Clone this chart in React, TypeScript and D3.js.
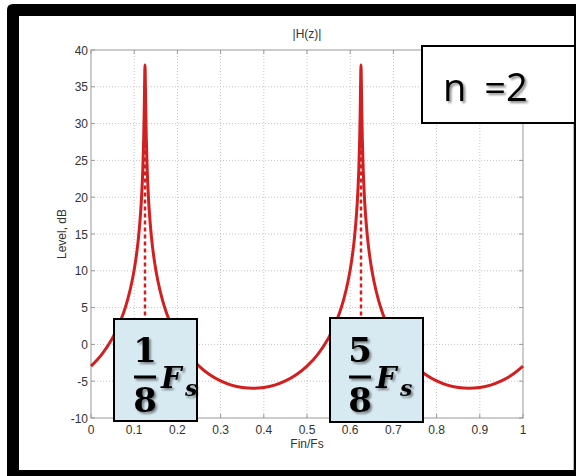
import React from "react";
import * as d3 from "d3";

// Normalised input frequency (Fin/Fs) and the filter magnitude in dB
const freq = [
  0, 0.025, 0.05, 0.0625, 0.075, 0.085, 0.095, 0.1, 0.105, 0.11, 0.115, 0.1175, 0.12, 0.122, 0.123, 0.124,
  0.125, 0.126, 0.127, 0.128, 0.13, 0.1325, 0.135, 0.14, 0.145, 0.15, 0.155, 0.165, 0.175, 0.1875, 0.2,
  0.225, 0.25, 0.275, 0.3, 0.325, 0.35, 0.375, 0.4, 0.425, 0.45, 0.475, 0.5,
  0.525, 0.55, 0.5625, 0.575, 0.585, 0.595, 0.6, 0.605, 0.61, 0.615, 0.6175, 0.62, 0.622, 0.623, 0.624,
  0.625, 0.626, 0.627, 0.628, 0.63, 0.6325, 0.635, 0.64, 0.645, 0.65, 0.655, 0.665, 0.675, 0.6875, 0.7,
  0.725, 0.75, 0.775, 0.8, 0.825, 0.85, 0.875, 0.9, 0.925, 0.95, 0.975, 1,
];
const level = [
  -2.96, -1.35, 0.89, 2.38, 4.23, 6.12, 8.58, 10.14, 12.06, 14.54, 18.03, 20.49, 23.92, 28.06, 31.06, 35.0,
  37.96, 35.0, 31.06, 28.06, 23.92, 20.49, 18.03, 14.54, 12.06, 10.14, 8.58, 6.12, 4.23, 2.38, 0.89,
  -1.35, -2.96, -4.13, -4.96, -5.53, -5.86, -5.97, -5.86, -5.53, -4.96, -4.13, -2.96,
  -1.35, 0.89, 2.38, 4.23, 6.12, 8.58, 10.14, 12.06, 14.54, 18.03, 20.49, 23.92, 28.06, 31.06, 35.0,
  37.96, 35.0, 31.06, 28.06, 23.92, 20.49, 18.03, 14.54, 12.06, 10.14, 8.58, 6.12, 4.23, 2.38, 0.89,
  -1.35, -2.96, -4.13, -4.96, -5.53, -5.86, -5.97, -5.86, -5.53, -4.96, -4.13, -2.96,
];
const peaks = [0.125, 0.625];
const peakLevel = 37.96;
const xTicks = [0, 0.1, 0.2, 0.3, 0.4, 0.5, 0.6, 0.7, 0.8, 0.9, 1];
const xTickLabels = ["0", "0.1", "0.2", "0.3", "0.4", "0.5", "0.6", "0.7", "0.8", "0.9", "1"];
const yTicks = [-10, -5, 0, 5, 10, 15, 20, 25, 30, 35, 40];
const fracNumerators = ["1", "5"];

const W = 576;
const H = 476;
const left = 91;
const right = 523;
const top = 50;
const bottom = 418;

export default function App() {
  const x = d3.scaleLinear().domain([0, 1]).range([left, right]);
  const y = d3.scaleLinear().domain([-10, 40]).range([bottom, top]);
  const pts: [number, number][] = freq.map((f, i) => [f, level[i]]);
  const line = d3
    .line<[number, number]>()
    .x((d) => x(d[0]))
    .y((d) => y(d[1]))
    .curve(d3.curveMonotoneX);

  const red = "#d21f1f";
  const axisCol = "#9a9a9a";
  const labelFont = "'Liberation Sans', Arial, sans-serif";
  const mathFont = "'DejaVu Serif', 'Liberation Serif', serif";

  // annotation boxes (pixel layout)
  const boxes = [
    { x0: 114, x1: 197, y0: 319, y1: 421, cx: 145 },
    { x0: 330, x1: 423, y0: 318, y1: 422, cx: 360 },
  ];

  return (
    <svg
      width={W}
      height={H}
      style={{ position: "absolute", left: 0, top: 0, background: "#fff" }}
      fontFamily={labelFont}
    >
      <defs>
        <filter id="shadow" x="-20%" y="-20%" width="150%" height="150%">
          <feDropShadow dx="2" dy="2" stdDeviation="1.2" floodColor="#000" floodOpacity="0.45" />
        </filter>
      </defs>

      {/* outer frame */}
      <path
        d={`M7,470 L7,10 Q7,4 13,4 L590,4 L590,490 L7,490 Z M19,16 L574,16 L574,470 L19,470 Z`}
        fill="#000"
        fillRule="evenodd"
      />
      <line x1={573.5} x2={573.5} y1={124} y2={470} stroke="#bbb" strokeWidth={1} />

      {/* grid */}
      {xTicks.slice(1, -1).map((t) => (
        <line
          key={"gx" + t}
          x1={x(t)}
          x2={x(t)}
          y1={top}
          y2={bottom}
          stroke="#c4c4c4"
          strokeWidth={1}
          strokeDasharray="1,2"
        />
      ))}
      {yTicks.slice(1, -1).map((t) => (
        <line
          key={"gy" + t}
          x1={left}
          x2={right}
          y1={y(t)}
          y2={y(t)}
          stroke="#c4c4c4"
          strokeWidth={1}
          strokeDasharray="1,2"
        />
      ))}

      {/* axes box */}
      <rect x={left} y={top} width={right - left} height={bottom - top} fill="none" stroke={axisCol} strokeWidth={1} />
      {xTicks.map((t) => (
        <g key={"tx" + t}>
          <line x1={x(t)} x2={x(t)} y1={bottom} y2={bottom - 4} stroke={axisCol} />
          <line x1={x(t)} x2={x(t)} y1={top} y2={top + 4} stroke={axisCol} />
        </g>
      ))}
      {yTicks.map((t) => (
        <g key={"ty" + t}>
          <line x1={left} x2={left + 4} y1={y(t)} y2={y(t)} stroke={axisCol} />
          <line x1={right} x2={right - 4} y1={y(t)} y2={y(t)} stroke={axisCol} />
        </g>
      ))}

      {/* tick labels */}
      {xTicks.map((t, i) => (
        <text key={"lx" + t} x={x(t)} y={bottom + 16} fontSize={12} fill="#333" textAnchor="middle">
          {xTickLabels[i]}
        </text>
      ))}
      {yTicks.map((t) => (
        <text key={"ly" + t} x={left - 3} y={y(t) + 4.5} fontSize={12} fill="#333" textAnchor="end">
          {t}
        </text>
      ))}

      <text x={(left + right) / 2} y={bottom + 30} fontSize={12} fill="#333" textAnchor="middle">
        Fin/Fs
      </text>
      <text
        transform={`translate(66,${(top + bottom) / 2}) rotate(-90)`}
        fontSize={12}
        fill="#333"
        textAnchor="middle"
      >
        Level, dB
      </text>
      <text x={(left + right) / 2} y={top - 12} fontSize={12} fill="#333" textAnchor="middle">
        |H(z)|
      </text>

      {/* peak markers */}
      {peaks.map((p) => (
        <line
          key={"pk" + p}
          x1={x(p)}
          x2={x(p)}
          y1={y(peakLevel - 4)}
          y2={y(-10)}
          stroke={red}
          strokeWidth={2.5}
          strokeDasharray="4,3"
        />
      ))}

      {/* response curve */}
      <path d={line(pts) ?? ""} fill="none" stroke={red} strokeWidth={3} strokeLinejoin="round" />

      {/* annotation boxes */}
      {boxes.map((b, i) => (
        <g key={"box" + i}>
          <rect x={b.x0} y={b.y0} width={b.x1 - b.x0} height={b.y1 - b.y0} fill="#d7eaf1" stroke="#000" strokeWidth={2} />
          <g filter="url(#shadow)" fill="#000" fontFamily={mathFont} fontWeight="bold">
            <text x={b.cx} y={362} fontSize={34} textAnchor="middle">
              {fracNumerators[i]}
            </text>
            <rect x={b.cx - 11} y={375.5} width={22} height={3} />
            <text x={b.cx} y={412} fontSize={34} textAnchor="middle">
              8
            </text>
            <text x={b.cx + 16} y={388} fontSize={29} fontStyle="italic">
              F
            </text>
            <text x={b.cx + 40} y={396} fontSize={22} fontStyle="italic">
              s
            </text>
          </g>
        </g>
      ))}

      {/* order label */}
      <rect x={422} y={46} width={153} height={77} fill="#fff" stroke="#000" strokeWidth={2} />
      <text
        x={443}
        y={101}
        fontSize={38}
        fontFamily="'Open Sans', 'Noto Sans', sans-serif"
        fill="#000"
        filter="url(#shadow)"
        wordSpacing={8}
      >
        n =2
      </text>
    </svg>
  );
}
